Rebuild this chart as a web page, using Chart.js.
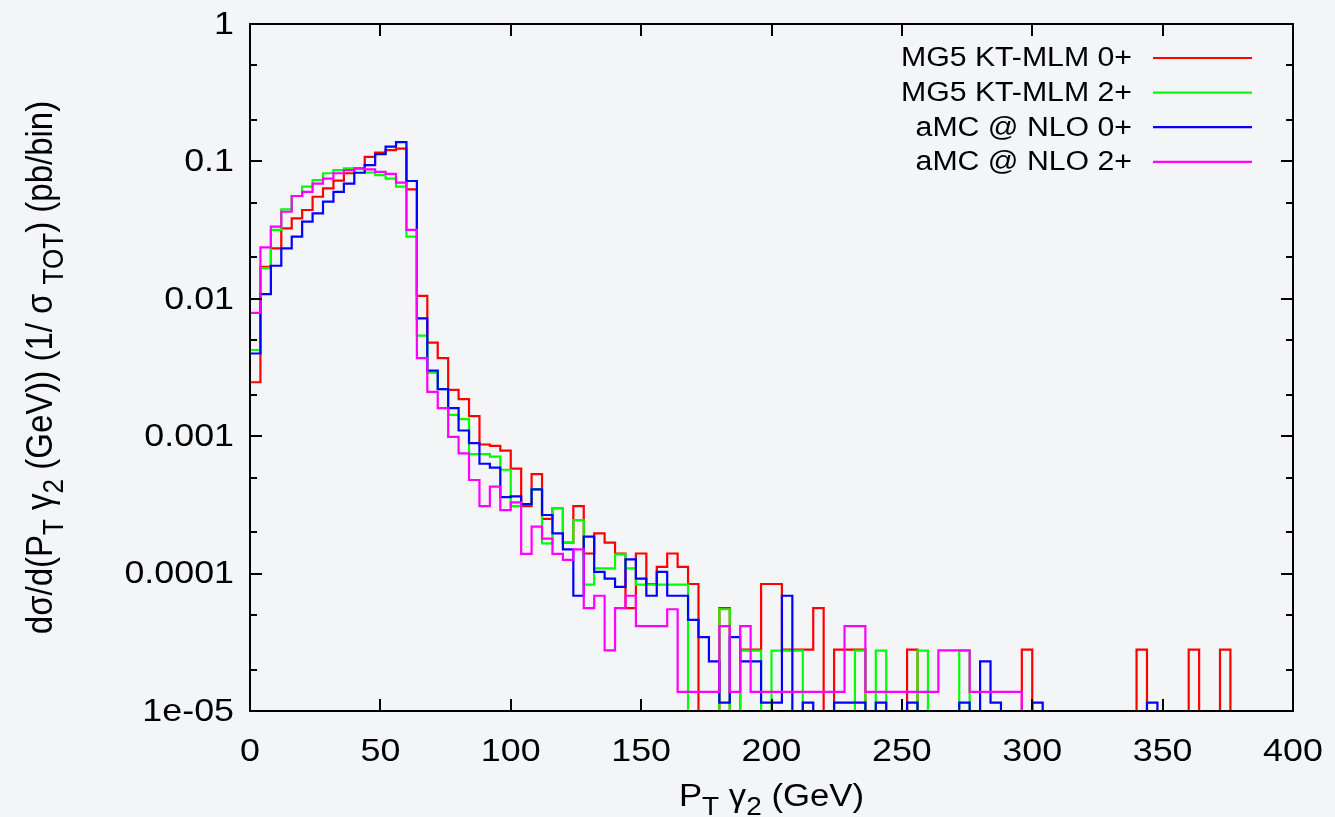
<!DOCTYPE html>
<html>
<head>
<meta charset="utf-8">
<title>PT gamma2</title>
<script src="https://cdn.jsdelivr.net/npm/chart.js@4"></script>
<style>
  html, body { margin: 0; padding: 0; background: #f4f5f7; }
  canvas { display: block; }
</style>
</head>
<body>
<canvas id="chart" width="1335" height="817"></canvas>
<script>
// histogram bins: 100 bins of 4 GeV from 0 to 400
const binWidth = 4;
const binCount = 100;

const xTicks = [0, 50, 100, 150, 200, 250, 300, 350, 400];
const yTicks = [1e-5, 1e-4, 1e-3, 1e-2, 1e-1, 1];
const yTickLabels = ["1e-05", "0.0001", "0.001", "0.01", "0.1", "1"];

const seriesLabels = ["MG5 KT-MLM 0+", "MG5 KT-MLM 2+", "aMC @ NLO 0+", "aMC @ NLO 2+"];
const seriesColors = ["#ff0000", "#00ff00", "#0000ff", "#ff00ff"];

// values per bin (0 = empty bin)
const mg5Zero = [
  0.00247, 0.0171, 0.0233, 0.0326, 0.0385, 0.0443, 0.0553, 0.0637, 0.0724, 0.082,
  0.089, 0.108, 0.116, 0.121, 0.124, 0.0626, 0.0105, 0.0048, 0.0037, 0.00217,
  0.00186, 0.0014, 0.00087, 0.00085, 0.000785, 0.00058, 0.00031, 0.00053, 0.00025, 0.0003,
  0.000168, 0.00031, 0.00014, 0.000196, 0.000168, 0.00014, 0.000056, 0.00014, 0.000084, 0.000112,
  0.00014, 0.000112, 0.000084, 0, 0, 0.000056, 0, 0.000028, 0.000028, 0.000084,
  0.000084, 0.000028, 0.000028, 0.000028, 0.000056, 0, 0.000028, 0.000028, 0.000028, 0,
  0, 0, 0, 0.000028, 0, 0, 0, 0, 0, 0,
  0, 0, 0, 0, 0.000028, 0, 0, 0, 0, 0,
  0, 0, 0, 0, 0, 0.000028, 0, 0, 0, 0,
  0.000028, 0, 0, 0.000028, 0, 0, 0, 0, 0, 0
];
const mg5Two = [
  0.00424, 0.0167, 0.0317, 0.0448, 0.056, 0.0655, 0.073, 0.082, 0.0865, 0.089,
  0.088, 0.083, 0.0795, 0.075, 0.0655, 0.0283, 0.0054, 0.0029, 0.0022, 0.00143,
  0.00133, 0.00074, 0.00074, 0.00071, 0.00057, 0.00031, 0.00032, 0.00041, 0.000166, 0.0003,
  0.000168, 0.000245, 0.000083, 0.000109, 0.000109, 0.000138, 0.000109, 0.000083, 0.000083, 0.000083,
  0.000083, 0.000083, 0, 0, 0, 0.000055, 0, 0.0000275, 0.0000275, 0,
  0.0000275, 0.0000275, 0.0000275, 0, 0, 0, 0, 0, 0.0000275, 0,
  0.0000275, 0, 0, 0, 0.0000275, 0, 0, 0, 0.0000275, 0,
  0, 0, 0, 0, 0, 0, 0, 0, 0, 0,
  0, 0, 0, 0, 0, 0, 0, 0, 0, 0,
  0, 0, 0, 0, 0, 0, 0, 0, 0, 0
];
const amcZero = [
  0.004, 0.0108, 0.0174, 0.0233, 0.0283, 0.0364, 0.0419, 0.0509, 0.06, 0.069,
  0.0827, 0.094, 0.113, 0.128, 0.138, 0.072, 0.0072, 0.003, 0.0022, 0.0016,
  0.0011, 0.00089, 0.00063, 0.00059, 0.00036, 0.000365, 0.00032, 0.00041, 0.000267, 0.000196,
  0.00015, 0.000069, 0.000186, 0.000103, 0.000092, 0.00008, 0.000127, 0.000092, 0.000069, 0.000103,
  0.000069, 0.000069, 0.000046, 0.0000345, 0.000023, 0.0000115, 0.0000345, 0.000023, 0.000023, 0.0000115,
  0.0000115, 0.000069, 0, 0.0000115, 0, 0, 0.0000115, 0.0000115, 0.0000115, 0,
  0.0000115, 0, 0, 0.0000115, 0, 0, 0, 0, 0.0000115, 0,
  0.000023, 0.0000115, 0, 0, 0, 0.0000115, 0, 0, 0, 0,
  0, 0, 0, 0, 0, 0, 0.0000115, 0, 0, 0,
  0, 0, 0, 0, 0, 0, 0, 0, 0, 0
];
const amcTwo = [
  0.0079, 0.0237, 0.0335, 0.043, 0.056, 0.06, 0.069, 0.075, 0.082, 0.0865,
  0.089, 0.0875, 0.084, 0.081, 0.07, 0.0317, 0.0037, 0.0021, 0.0016, 0.00099,
  0.00075, 0.00048, 0.00031, 0.00043, 0.00029, 0.00033, 0.000139, 0.00022, 0.00018, 0.000139,
  0.000126, 0.00015, 0.000056, 0.000069, 0.0000276, 0.000056, 0.000069, 0.0000414, 0.0000414, 0.0000414,
  0.000055, 0.0000138, 0.0000138, 0.0000138, 0.0000138, 0.0000414, 0.0000138, 0.0000414, 0.0000138, 0.0000138,
  0.0000138, 0.0000138, 0.0000138, 0.0000138, 0.0000138, 0.0000138, 0.0000138, 0.0000414, 0.0000414, 0.0000138,
  0.0000138, 0.0000138, 0.0000138, 0.0000138, 0.0000138, 0.0000138, 0.0000276, 0.0000276, 0.0000276, 0.0000138,
  0.0000138, 0.0000138, 0.0000138, 0.0000138, 0, 0, 0, 0, 0, 0,
  0, 0, 0, 0, 0, 0, 0, 0, 0, 0,
  0, 0, 0, 0, 0, 0, 0, 0, 0, 0
];

const seriesValues = [mg5Zero, mg5Two, amcZero, amcTwo];

const yMin = 1e-5;
const yMax = 1;

// text in the picture is a bit wider than plain Helvetica
const stretch = 1.12;
const fontFamily = "'Liberation Sans', Arial, Helvetica, sans-serif";

// step points: left edge of every bin, plus the right end of the last bin
function stepPoints(values) {
  const pts = values.map((v, i) => ({ x: i * binWidth, y: Math.max(v, yMin) }));
  pts.push({ x: binCount * binWidth, y: Math.max(values[values.length - 1], yMin) });
  return pts;
}

function drawStretched(ctx, text, x, y, align) {
  const w = ctx.measureText(text).width * stretch;
  let x0 = x;
  if (align === "right") x0 = x - w;
  if (align === "center") x0 = x - w / 2;
  ctx.save();
  ctx.translate(x0, y);
  ctx.scale(stretch, 1);
  ctx.textAlign = "left";
  ctx.fillText(text, 0, 0);
  ctx.restore();
}

// parts: [text, isSubscript]
function richWidth(ctx, parts, size, subSize) {
  let w = 0;
  parts.forEach(function (p) {
    ctx.font = (p[1] ? subSize : size) + "px " + fontFamily;
    w += ctx.measureText(p[0]).width;
  });
  return w;
}

function drawRich(ctx, parts, size, subSize, subShift) {
  let x = 0;
  parts.forEach(function (p) {
    ctx.font = (p[1] ? subSize : size) + "px " + fontFamily;
    ctx.fillText(p[0], x, p[1] ? subShift : 0);
    x += ctx.measureText(p[0]).width;
  });
}

const xTitle = [["P", false], ["T", true], [" \u03b3", false], ["2", true], [" (GeV)", false]];
const yTitle = [["d\u03c3/d(P", false], ["T", true], [" \u03b3", false], ["2", true],
  [" (GeV)) (1/ \u03c3 ", false], ["TOT", true], [") (pb/bin)", false]];

const framePlugin = {
  id: "gnuplotFrame",
  afterDatasetsDraw(chart) {
    const ctx = chart.ctx;
    const area = chart.chartArea;
    const xs = chart.scales.x;
    const ys = chart.scales.y;
    ctx.save();
    ctx.strokeStyle = "#000";
    ctx.fillStyle = "#000";
    ctx.lineWidth = 2;
    ctx.strokeRect(area.left, area.top, area.right - area.left, area.bottom - area.top);

    // x ticks, mirrored on top
    ctx.beginPath();
    xTicks.forEach(function (v) {
      const px = Math.round(xs.getPixelForValue(v));
      ctx.moveTo(px, area.bottom); ctx.lineTo(px, area.bottom - 12);
      ctx.moveTo(px, area.top); ctx.lineTo(px, area.top + 12);
    });
    // y ticks: decades long, 2 and 5 short
    yTicks.forEach(function (v) {
      const py = Math.round(ys.getPixelForValue(v));
      ctx.moveTo(area.left, py); ctx.lineTo(area.left + 12, py);
      ctx.moveTo(area.right, py); ctx.lineTo(area.right - 12, py);
      [2, 5].forEach(function (m) {
        const mv = v * m;
        if (mv < yMax) {
          const my = Math.round(ys.getPixelForValue(mv));
          ctx.moveTo(area.left, my); ctx.lineTo(area.left + 7, my);
          ctx.moveTo(area.right, my); ctx.lineTo(area.right - 7, my);
        }
      });
    });
    ctx.stroke();

    // tick labels
    ctx.font = "32px " + fontFamily;
    ctx.textBaseline = "middle";
    yTicks.forEach(function (v, i) {
      drawStretched(ctx, yTickLabels[i], area.left - 16, ys.getPixelForValue(v) + 1, "right");
    });
    ctx.textBaseline = "top";
    xTicks.forEach(function (v) {
      drawStretched(ctx, String(v), xs.getPixelForValue(v), area.bottom + 25, "center");
    });

    // legend, gnuplot style: text right-aligned, sample line on the right
    ctx.font = "27px " + fontFamily;
    ctx.textBaseline = "middle";
    chart.data.datasets.forEach(function (ds, i) {
      const ly = 58 + i * 34.6;
      drawStretched(ctx, ds.label, 1132, ly + 1, "right");
      ctx.strokeStyle = ds.borderColor;
      ctx.lineWidth = 2.2;
      ctx.beginPath();
      ctx.moveTo(1153, ly); ctx.lineTo(1252, ly);
      ctx.stroke();
    });

    // axis titles
    ctx.fillStyle = "#000";
    ctx.textBaseline = "alphabetic";
    ctx.textAlign = "left";
    const size = 31, subSize = 25, subShift = 9;
    const xw = richWidth(ctx, xTitle, size, subSize) * stretch;
    ctx.save();
    ctx.translate((area.left + area.right) / 2 - xw / 2, 806);
    ctx.scale(stretch, 1);
    drawRich(ctx, xTitle, size, subSize, subShift);
    ctx.restore();

    const yw = richWidth(ctx, yTitle, 33, 26);
    ctx.save();
    ctx.translate(52, (area.top + area.bottom) / 2 + yw / 2);
    ctx.rotate(-Math.PI / 2);
    ctx.scale(1, stretch);
    drawRich(ctx, yTitle, 33, 26, 10);
    ctx.restore();

    ctx.restore();
  }
};

const datasets = seriesValues.map(function (vals, i) {
  return {
    label: seriesLabels[i],
    data: stepPoints(vals),
    borderColor: seriesColors[i],
    borderWidth: 2.2,
    pointRadius: 0,
    fill: false,
    stepped: "before",
    order: seriesValues.length - i
  };
});

const chart = new Chart(document.getElementById("chart").getContext("2d"), {
  type: "line",
  data: { datasets: datasets },
  options: {
    responsive: false,
    animation: false,
    layout: { padding: { top: 24, right: 42, left: 0, bottom: 0 } },
    plugins: {
      legend: { display: false },
      tooltip: { enabled: false }
    },
    scales: {
      x: {
        type: "linear",
        min: 0,
        max: binCount * binWidth,
        ticks: { display: false },
        grid: { display: false },
        border: { display: false },
        afterFit: function (s) { s.height = 106; }
      },
      y: {
        type: "logarithmic",
        min: yMin,
        max: yMax,
        ticks: { display: false },
        grid: { display: false },
        border: { display: false },
        afterBuildTicks: function (s) { s.ticks = yTicks.map(function (v) { return { value: v }; }); },
        afterFit: function (s) { s.width = 250; }
      }
    }
  },
  plugins: [framePlugin]
});
</script>
</body>
</html>
